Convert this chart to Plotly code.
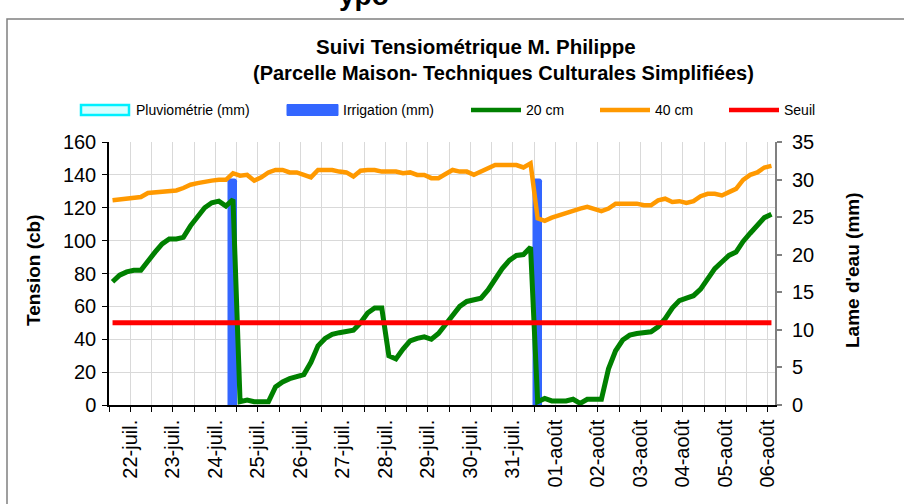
import plotly.graph_objects as go

# ---------------- data ----------------
date_labels = ["22-juil.", "23-juil.", "24-juil.", "25-juil.", "26-juil.", "27-juil.",
               "28-juil.", "29-juil.", "30-juil.", "31-juil.", "01-août", "02-août",
               "03-août", "04-août", "05-août", "06-août"]

# Tension (cb) at 20 cm, one reading every 4 h
tension_20cm = [75, 79, 81, 82, 82, 88, 93, 98, 101, 101, 102, 109, 115, 120, 123, 124, 121, 125,
                2, 3, 2, 2, 2, 11, 14, 16, 17, 18.5, 26, 36, 40.5, 43, 44, 44.5, 45.5, 50, 56, 59,
                59, 30, 28, 34, 39, 40.5, 41.5, 40, 43.5, 49, 55, 60, 63, 64, 65, 70, 76.5, 83, 88,
                91, 91.5, 96, 2, 4, 2.5, 2.5, 2.5, 3.5, 1, 3.5, 3.5, 3.5, 22, 33, 39.5, 42.5, 43.5, 44,
                44.5, 47.5, 52.5, 59, 63.5, 65, 66.5, 70.5, 76.5, 83, 87, 91, 93, 99.5, 104.5, 109.5, 114, 116]

# Tension (cb) at 40 cm
tension_40cm = [124.5, 125, 125.5, 126.5, 126.5, 129, 129.5, 130, 130.5, 130.5, 132, 134, 135, 136, 136.5, 137, 137, 141,
                139.5, 140, 136.5, 138.5, 141.5, 143, 143, 141.5, 141.5, 140, 138.5, 143, 143, 143, 142, 141.5, 139, 142.5, 143, 143,
                142, 142, 142, 141, 141.5, 140, 140, 138, 138, 140.5, 143, 142, 142, 140, 142, 144.5, 146, 146, 146,
                146, 144.5, 147, 113.5, 112, 114, 115.5, 116.5, 118.5, 119.5, 120.5, 119.5, 118, 119.5, 122.5, 122.5, 122.5, 122.5, 121.5,
                121.5, 124.5, 125.5, 123.5, 124, 123, 124, 127, 128.5, 128.5, 127.5, 129.5, 131.5, 137, 140, 141.5, 144.5, 145.5]

seuil_cb = 50                      # threshold (cb)
irrigation_index = [17, 60]        # reading index of each irrigation
irrigation_mm = [30, 30]
pluviometrie_index = []            # no rain recorded
pluviometrie_mm = []

n = len(tension_20cm)
x = list(range(n))
label_index = [2.5 + 6 * k for k in range(len(date_labels))]

# ---------------- layout helpers ----------------
W, H = 904, 504
L, R, T, B = 109, 775, 142, 405
FONT = "Liberation Sans, Arial, sans-serif"


def px(v):
    return (v - L) / (R - L)


def py(v):
    return (B - v) / (B - T)


fig = go.Figure()

# bars on the right (mm) axis = main y axis, so the lines overlay them
fig.add_trace(go.Bar(x=pluviometrie_index, y=pluviometrie_mm, yaxis="y", width=1.0,
                     marker=dict(color="#ccffff", line=dict(color="#00ffff", width=2)),
                     name="Pluviométrie (mm)", showlegend=False))
fig.add_trace(go.Bar(x=irrigation_index, y=irrigation_mm, yaxis="y", width=1.1,
                     marker=dict(color="#3366ff", line=dict(color="#3366ff", width=1.5), cornerradius=3),
                     name="Irrigation (mm)", showlegend=False))
fig.add_trace(go.Scatter(x=x, y=tension_20cm, yaxis="y2", mode="lines",
                         line=dict(color="#008000", width=5), name="20 cm", showlegend=False))
fig.add_trace(go.Scatter(x=x, y=tension_40cm, yaxis="y2", mode="lines",
                         line=dict(color="#ff9900", width=4.5), name="40 cm", showlegend=False))
fig.add_trace(go.Scatter(x=[x[0], x[-1]], y=[seuil_cb, seuil_cb], yaxis="y2", mode="lines",
                         line=dict(color="#ff0000", width=5), name="Seuil", showlegend=False))

grid = "#d9d9d9"
fig.update_layout(
    width=W, height=H,
    margin=dict(l=L, r=W - R, t=T, b=H - B, autoexpand=False),
    paper_bgcolor="white", plot_bgcolor="white",
    showlegend=False,
    bargap=0,
    font=dict(family=FONT, color="#000"),
    xaxis=dict(range=[-0.5, n - 0.5], tickmode="array", tickvals=label_index, ticktext=date_labels,
               tickangle=-90, ticks="outside", ticklen=5, tickcolor="#000", tickwidth=1,
               showline=True, linecolor="#000", linewidth=1.5,
               showgrid=True, gridcolor=grid, gridwidth=1, zeroline=False,
               tickfont=dict(size=20, family=FONT, color="#000"),
               minor=dict(tick0=-0.5, dtick=3, ticks="outside", ticklen=5, tickcolor="#000",
                          showgrid=True, gridcolor=grid, gridwidth=1)),
    yaxis=dict(side="right", range=[0, 35], tickmode="linear", tick0=0, dtick=5,
               showgrid=False, zeroline=False, showline=True, linecolor="#808080", linewidth=2,
               ticks="outside", ticklen=5, tickcolor="#808080", tickwidth=2, ticklabelstandoff=6,
               tickfont=dict(size=20, family=FONT, color="#000")),
    yaxis2=dict(overlaying="y", side="left", range=[0, 160], tickmode="linear", tick0=0, dtick=20,
                showgrid=True, gridcolor=grid, gridwidth=1, zeroline=False,
                showline=True, linecolor="#000", linewidth=1.5,
                ticks="outside", ticklen=5, tickcolor="#000", ticklabelstandoff=2,
                tickfont=dict(size=20, family=FONT, color="#000")),
)

shapes = []
annotations = []

# chart frame
shapes.append(dict(type="rect", xref="paper", yref="paper", x0=px(7), x1=px(960), y0=py(19), y1=py(560),
                   line=dict(color="#808080", width=1.5), fillcolor="rgba(0,0,0,0)", layer="above"))

# legend (drawn manually to reproduce wide Excel-like keys)
ly = 110
shapes.append(dict(type="rect", xref="paper", yref="paper", x0=px(81), x1=px(129), y0=py(115), y1=py(105),
                   line=dict(color="#00f0ff", width=2.5), fillcolor="#d8ffff"))
shapes.append(dict(type="rect", xref="paper", yref="paper", x0=px(287), x1=px(338), y0=py(115.5), y1=py(104.5),
                   line=dict(color="#3366ff", width=1), fillcolor="#3366ff"))
for (x0, col) in [(471, "#008000"), (600, "#ff9900"), (729, "#ff0000")]:
    shapes.append(dict(type="line", xref="paper", yref="paper", x0=px(x0), x1=px(x0 + 50), y0=py(ly), y1=py(ly),
                       line=dict(color=col, width=4.5)))
for (tx, txt) in [(134, "Pluviométrie (mm)"), (341, "Irrigation (mm)"), (524, "20 cm"), (653, "40 cm"), (782, "Seuil")]:
    annotations.append(dict(xref="paper", yref="paper", x=px(tx), y=py(ly), text=txt, showarrow=False,
                            xanchor="left", yanchor="middle", font=dict(size=14, family=FONT, color="#000")))

# titles
annotations.append(dict(xref="paper", yref="paper", x=px(476), y=py(47), text="<b>Suivi Tensiométrique M. Philippe</b>",
                        showarrow=False, xanchor="center", yanchor="middle", font=dict(size=20.5, family=FONT, color="#000")))
annotations.append(dict(xref="paper", yref="paper", x=px(503), y=py(73),
                        text="<b>(Parcelle Maison- Techniques Culturales Simplifiées)</b>",
                        showarrow=False, xanchor="center", yanchor="middle", font=dict(size=20, family=FONT, color="#000")))
# cut-off heading above the frame (partly outside the picture, as in the reference)
annotations.append(dict(xref="paper", yref="paper", x=px(364), y=py(-4), text="<b>ypo</b>",
                        showarrow=False, xanchor="center", yanchor="middle", font=dict(size=28, family=FONT, color="#000")))

# axis titles
annotations.append(dict(xref="paper", yref="paper", x=px(33), y=py(270), text="<b>Tension (cb)</b>", textangle=-90,
                        showarrow=False, xanchor="center", yanchor="middle", font=dict(size=19, family=FONT, color="#000")))
annotations.append(dict(xref="paper", yref="paper", x=px(852), y=py(270), text="<b>Lame d'eau (mm)</b>", textangle=-90,
                        showarrow=False, xanchor="center", yanchor="middle", font=dict(size=19, family=FONT, color="#000")))

fig.update_layout(shapes=shapes, annotations=annotations)
fig.write_html("out.html", config={"displayModeBar": False},
               post_script="document.body.style.margin='0';")
